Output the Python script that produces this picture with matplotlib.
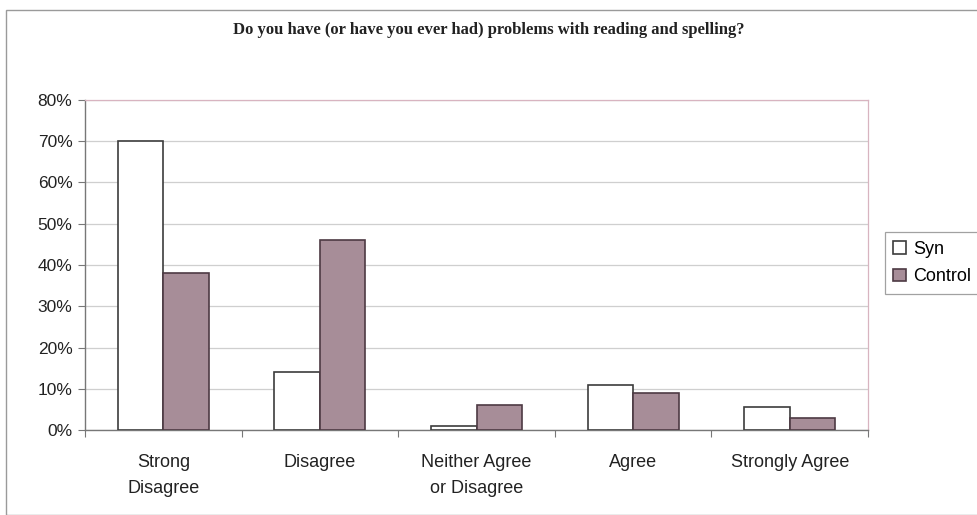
import numpy as np
import matplotlib.pyplot as plt
from matplotlib.patches import Rectangle
from matplotlib.ticker import PercentFormatter

categories = ["Strong\nDisagree", "Disagree", "Neither Agree\nor Disagree", "Agree", "Strongly Agree"]
syn = [70, 14, 1, 11, 5.6]
control = [38, 46, 6, 9, 3]

plt.rcParams["font.family"] = ["Liberation Sans", "DejaVu Sans"]

fig = plt.figure(figsize=(9.77, 5.15), dpi=100)
ax = fig.add_axes([85 / 977, 1 - 430 / 515, (868 - 85) / 977, 330 / 515])

# outer chart frame
fig.patches.append(Rectangle((6 / 977, 0.0), 975 / 977, 1 - 10 / 515,
                             transform=fig.transFigure, fill=False,
                             edgecolor="#9a9a9a", linewidth=1.0))

x = np.arange(len(categories))
w = 0.29
ax.bar(x - w / 2, syn, w, color="white", edgecolor="#3c3c3c", linewidth=1.2,
       label="Syn", zorder=3)
ax.bar(x + w / 2, control, w, color="#a78d98", edgecolor="#4d3a43", linewidth=1.2,
       label="Control", zorder=3)

ax.set_xlim(-0.5, len(categories) - 0.5)
ax.set_ylim(0, 80)
ax.set_yticks(np.arange(0, 81, 10))
ax.yaxis.set_major_formatter(PercentFormatter(decimals=0))
ax.set_xticks(np.arange(-0.5, len(categories), 1.0))
ax.set_xticklabels([])
ax.set_xticks(x, minor=True)
ax.set_xticklabels(categories, minor=True, fontsize=13, color="#222222",
                   linespacing=1.75)
ax.tick_params(axis="x", which="minor", length=0, pad=17)
ax.tick_params(axis="x", which="major", length=5, direction="out", color="#777777")
ax.tick_params(axis="y", length=5, direction="out", color="#777777", labelsize=12.5,
               labelcolor="#222222", pad=4)

ax.grid(axis="y", color="#cfcfcf", linewidth=0.9, zorder=0)
for side in ["top", "right"]:
    ax.spines[side].set_color("#d8b4c0")
    ax.spines[side].set_linewidth(0.9)
for side in ["left", "bottom"]:
    ax.spines[side].set_color("#777777")
    ax.spines[side].set_linewidth(1.0)

fig.text(0.5, 1 - 30 / 515,
         "Do you have (or have you ever had) problems with reading and spelling?",
         ha="center", va="center", fontsize=12, fontweight="bold",
         family=["Liberation Serif", "DejaVu Serif"], color="#222222")

leg = ax.legend(loc="center left", bbox_to_anchor=(885 / 977, 1 - 263 / 515),
                bbox_transform=fig.transFigure, fontsize=13,
                frameon=True, fancybox=False, handlelength=0.7, handleheight=0.7,
                handletextpad=0.4, borderpad=0.45, labelspacing=0.6,
                borderaxespad=0)
leg.get_frame().set_edgecolor("#8a8a8a")
leg.get_frame().set_linewidth(0.9)

fig.savefig("out.png", dpi=100)
